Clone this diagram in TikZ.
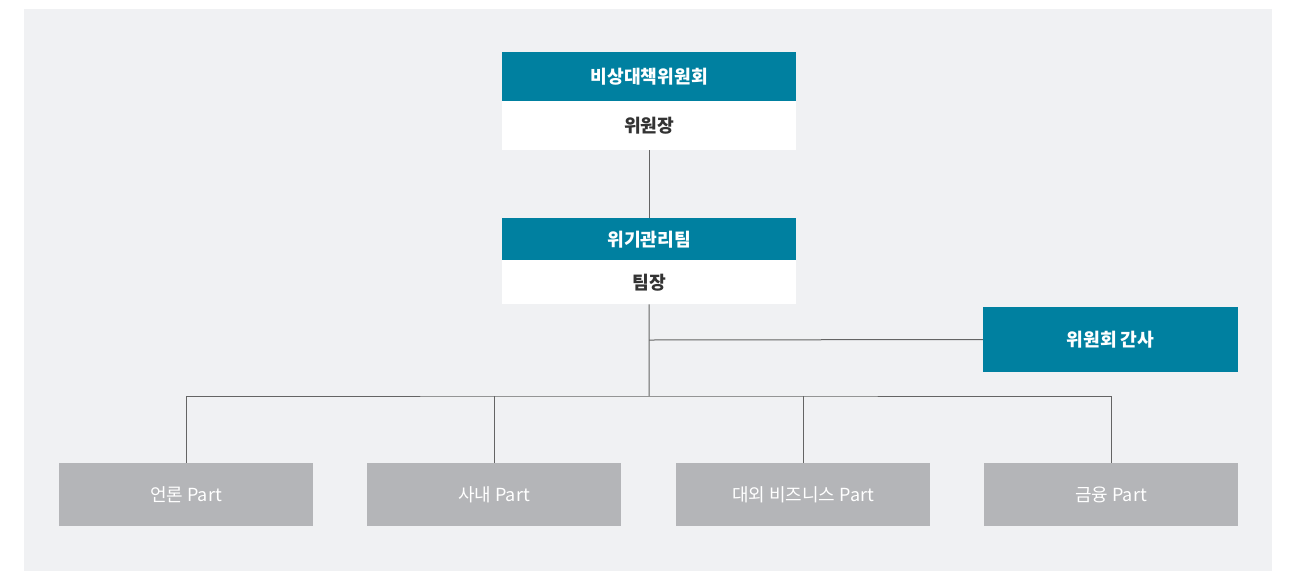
\documentclass[tikz,border=0pt]{standalone}
\usepackage{fontspec}
\setmainfont{Noto Sans CJK KR}
\definecolor{teal1}{RGB}{0,128,160}
\definecolor{grayb}{RGB}{180,181,184}
\definecolor{bgc}{RGB}{240,241,243}
\definecolor{linec}{RGB}{100,100,100}
\definecolor{darkt}{RGB}{51,51,51}
\begin{document}
\begin{tikzpicture}[x=1pt,y=-1pt,
  head/.style={fill=teal1,text=white,font=\fontsize{18.2}{20}\selectfont\bfseries,inner sep=0pt,minimum width=294pt,anchor=north west},
  sub/.style={fill=white,text=darkt,font=\fontsize{18.2}{20}\selectfont\bfseries,inner sep=0pt,minimum width=294pt,anchor=north west},
  partbox/.style={fill=grayb,text=white,font=\fontsize{18}{20}\selectfont,inner sep=0pt,minimum width=254pt,minimum height=63pt},
  conn/.style={draw=linec,line width=1pt}]
\useasboundingbox (0,0) rectangle (1295,571);
\fill[bgc] (24,9) rectangle (1272,571);
% top box
\node[head,minimum height=49pt] (t1) at (502,52) {비상대책위원회};
\node[sub,minimum height=49pt] (t2) at (502,101) {위원장};
% second box
\node[head,minimum height=42pt] (m1) at (502,218) {위기관리팀};
\node[sub,minimum height=44pt] (m2) at (502,260) {팀장};
% side box
\node[fill=teal1,text=white,font=\fontsize{18.2}{20}\selectfont\bfseries,inner sep=0pt,minimum width=255pt,minimum height=65pt] (s) at (1110.5,339.5) {위원회 간사};
% parts
\node[partbox] (p1) at (186,494.5) {언론 Part};
\node[partbox] (p2) at (494,494.5) {사내 Part};
\node[partbox] (p3) at (803,494.5) {대외 비즈니스 Part};
\node[partbox] (p4) at (1111,494.5) {금융 Part};
\coordinate (j1) at (649,340);
\coordinate (j2) at (649,396);
\draw[conn] (t2.south) -- (m1.north);
\draw[conn] (m2.south) -- (j2);
\draw[conn] (j1) -- (s.west);
\draw[conn] (p1.north) |- (j2) -| (p4.north);
\draw[conn] (p2.north) -- (p2.north |- j2);
\draw[conn] (p3.north) -- (p3.north |- j2);
\end{tikzpicture}
\end{document}
